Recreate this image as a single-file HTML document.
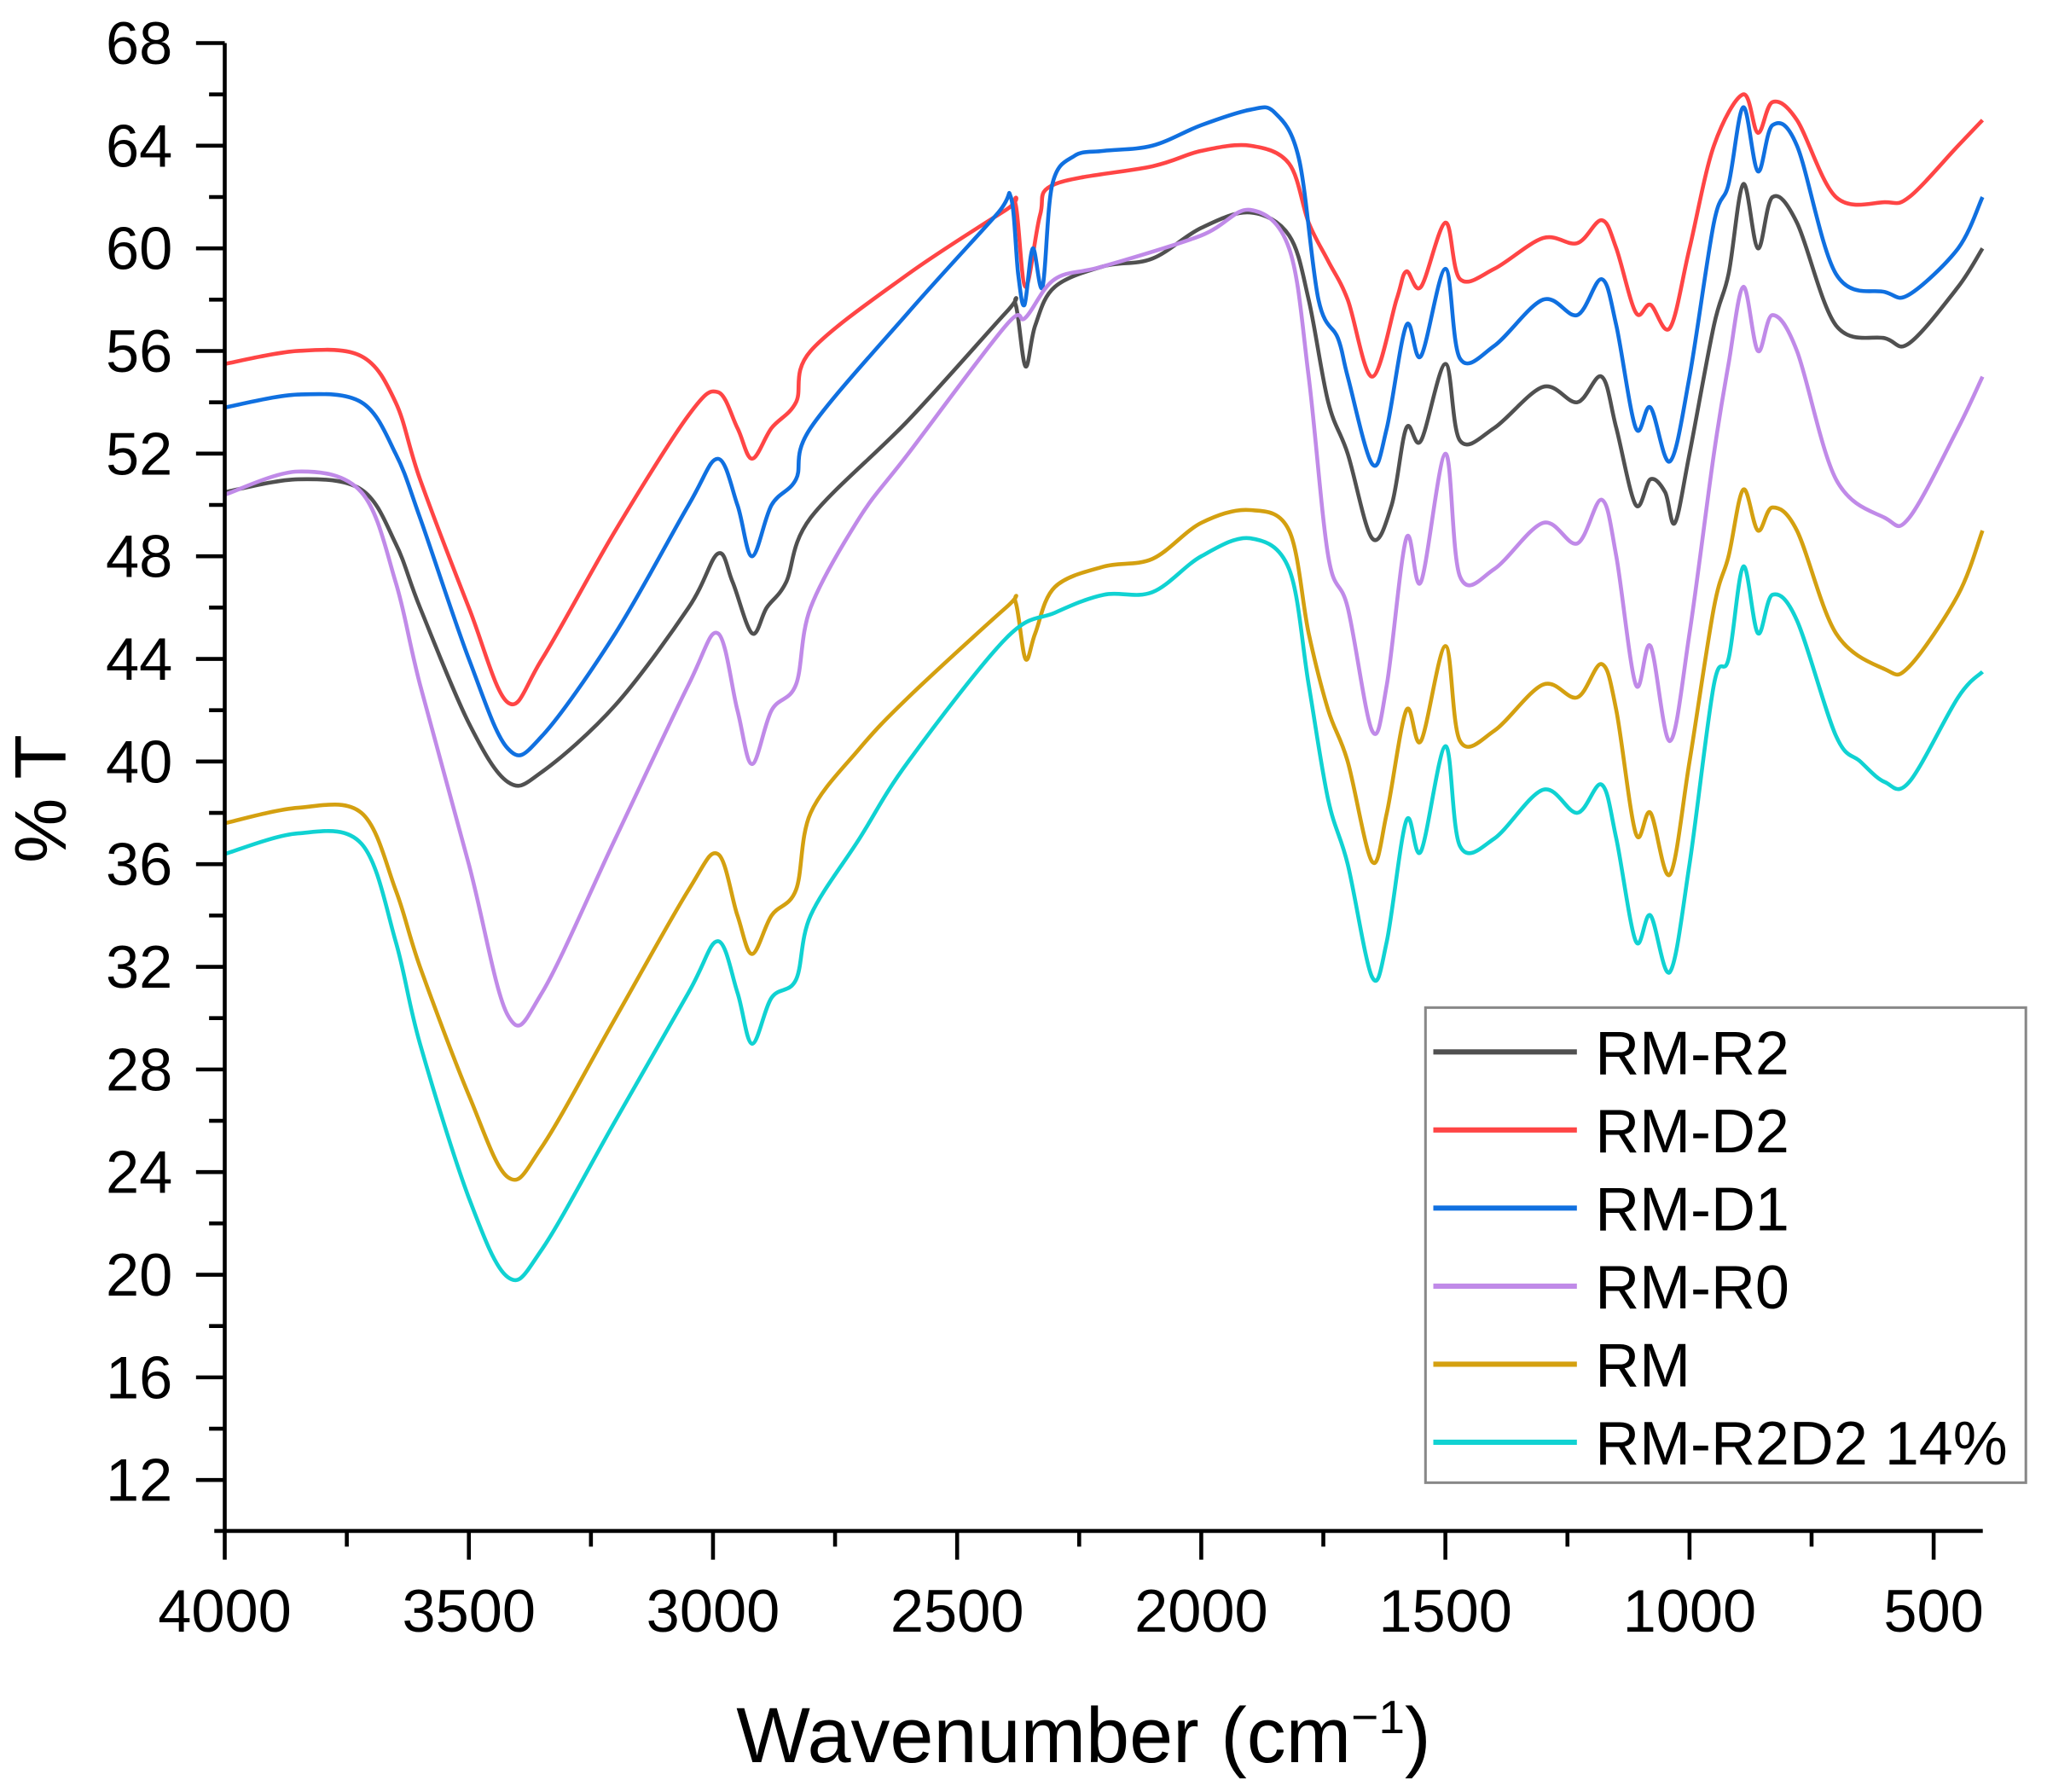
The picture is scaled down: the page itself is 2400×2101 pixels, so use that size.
<!DOCTYPE html>
<html><head><meta charset="utf-8"><style>
html,body{margin:0;padding:0;background:#fff;}
svg{display:block;}
text{font-family:"Liberation Sans",Arial,sans-serif;fill:#000;}
</style></head><body>
<svg id="s" width="2400" height="2101" viewBox="0 0 1568 1373" xmlns="http://www.w3.org/2000/svg">
<rect width="1568" height="1373" fill="#fff"/>
<g id="curves" fill="none" stroke-width="3" stroke-linejoin="round"></g>
<g id="axes" stroke="#000" stroke-width="3" fill="none"></g>
<g id="labels" font-size="46"></g>
<text x="50" y="612" font-size="56" text-anchor="middle" transform="rotate(-90 50 612)">% T</text>
<text x="830" y="1350" font-size="60" text-anchor="middle">Wavenumber (cm<tspan font-size="36" dy="-22">−1</tspan><tspan dy="22">)</tspan></text>
<rect x="1092" y="772" width="460" height="364" fill="#fff" stroke="#888" stroke-width="2"/>
<g id="legend" font-size="47"></g>
</svg>
<script>
var NS="http://www.w3.org/2000/svg";
function X(w){return 172+(4000-w)*0.3741;}
function Y(v){return 33+(68-v)*19.66;}
function el(t,a,p){var e=document.createElementNS(NS,t);for(var k in a)e.setAttribute(k,a[k]);p.appendChild(e);return e;}
var ax=document.getElementById('axes'),lb=document.getElementById('labels');
el('line',{x1:172,y1:33,x2:172,y2:1174},ax);
el('line',{x1:164,y1:1173,x2:1519,y2:1173},ax);
for(var v=12;v<=68;v+=2){var y=Y(v);var maj=(v%4==0);el('line',{x1:maj?150:160,y1:y,x2:172,y2:y},ax);
 if(maj){var t=el('text',{x:132,y:y+16,'text-anchor':'end'},lb);t.textContent=v;}}
for(var w=4000;w>=500;w-=250){var x=X(w);var maj=(w%500==0);el('line',{x1:x,y1:1173,x2:x,y2:maj?1195:1185},ax);
 if(maj){var t=el('text',{x:x,y:1250,'text-anchor':'middle'},lb);t.textContent=w;}}
var S=[
["RM-R2","#505050",[4000,50.5,3850,51,3720,50.6,3650,48.5,3600,46,3500,41.5,3420,39.2,3350,39.6,3200,42.2,3050,46,2990,48.1,2960,47,2920,45,2890,46,2850,47,2800,49.5,2600,53.3,2400,57.5,2380,57.8,2360,55.4,2340,57,2300,58.5,2200,59.3,2100,59.6,2000,60.8,1900,61.4,1820,60.5,1780,58,1740,54,1700,52,1650,48.7,1610,50,1580,53,1550,52.5,1500,55.5,1470,52.5,1400,53,1300,54.6,1230,54,1180,55,1150,53,1110,50,1080,51,1050,50.5,1030,49.3,1000,52,950,57,920,59,890,62.5,860,60,830,62,780,61,700,57,600,56.5,550,56.3,450,58.5,400,60]],
["RM-D2","#ff4545",[4000,55.5,3850,56,3720,55.8,3650,54,3600,51,3500,46,3420,42.3,3350,44,3200,49,3050,53.5,2990,54.4,2950,53,2920,51.8,2880,53,2830,54,2800,56,2600,59,2400,61.5,2380,61.7,2360,58.5,2330,61.3,2300,62.5,2100,63.2,2000,63.8,1900,64,1820,63.3,1780,61,1740,59.5,1700,58,1650,55,1600,58,1580,59.1,1550,58.5,1500,61,1470,58.8,1400,59.2,1300,60.4,1230,60.2,1180,61.1,1150,60,1110,57.5,1080,57.8,1040,56.9,1000,60,950,64,890,66,860,64.5,830,65.7,780,65,700,62,600,61.8,550,62,450,64,400,65]],
["RM-D1","#1070e0",[4000,53.8,3850,54.3,3720,54,3650,52,3600,49.5,3500,44,3420,40.5,3350,41,3200,45,3050,50,2990,51.8,2950,50,2920,48,2880,50,2830,51,2800,53,2600,57.5,2420,61.3,2390,62,2375,59,2362,57.8,2345,60,2325,58.5,2305,62.5,2260,63.6,2200,63.8,2100,64,2000,64.8,1900,65.4,1850,65.3,1800,63.5,1760,58,1720,56.5,1700,55,1650,51.6,1620,53,1580,57,1550,55.8,1500,59.2,1470,55.7,1400,56.2,1300,58,1230,57.4,1180,58.8,1150,57,1110,53,1080,53.8,1040,51.7,1000,55,950,61,920,62.5,890,65.5,860,63,830,64.8,780,64,700,59,600,58.3,550,58.2,450,60,400,62]],
["RM-R0","#c08ae8",[4000,50.4,3850,51.3,3720,50.5,3650,47,3600,43,3500,36,3420,30.1,3350,31,3200,37,3050,43,2990,45,2950,42,2920,39.9,2880,42,2830,43,2800,46,2700,49.5,2600,52,2400,57,2360,57.3,2300,58.8,2200,59.3,2000,60.5,1900,61.5,1820,60,1780,55,1740,48,1700,46,1650,41.2,1620,43,1580,48.7,1550,47,1500,52,1470,47.2,1400,47.5,1300,49.3,1230,48.5,1180,50.2,1150,48,1110,43,1080,44.5,1040,40.8,1000,45,950,52,920,55.5,890,58.5,860,56,830,57.4,780,56,700,51,600,49.5,550,49.5,450,53,400,55]],
["RM","#d4a010",[4000,37.6,3850,38.2,3720,38,3650,35,3600,32,3500,27,3420,23.8,3350,25,3200,30,3050,35,2990,36.4,2950,34,2920,32.5,2880,34,2830,35,2800,38,2700,40.5,2600,42.5,2400,46,2380,46.2,2360,44,2340,45,2300,46.8,2200,47.6,2100,47.9,2000,49.3,1900,49.8,1820,49,1780,45,1740,42,1700,40,1650,36.1,1620,38,1580,42,1550,40.8,1500,44.5,1470,40.8,1400,41.2,1300,43,1230,42.5,1180,43.8,1150,42,1110,37.2,1080,38,1040,35.6,1000,40,950,46,920,48,890,50.6,860,49,830,49.9,780,49,700,45,600,43.6,550,43.7,450,46.5,400,49]],
["RM-R2D2 14%","#10d2d2",[4000,36.4,3850,37.2,3720,36.8,3650,33,3600,29,3500,23,3420,19.9,3350,21,3200,26,3050,31,2990,33,2950,31,2920,29,2880,30.8,2830,31.5,2800,34,2700,37,2600,40,2400,44.8,2300,45.8,2200,46.5,2100,46.6,2000,48,1900,48.7,1820,47.5,1780,43,1740,38.5,1700,36,1650,31.6,1620,33,1580,37.7,1550,36.5,1500,40.6,1470,36.7,1400,37,1300,38.9,1230,38,1180,39.1,1150,37,1110,33,1080,34,1040,31.8,1000,36,950,43,920,44,890,47.6,860,45,830,46.5,780,45.5,700,41,650,40,600,39.2,550,39.2,450,42.5,400,43.5]]
];
var cg=document.getElementById('curves'),lg=document.getElementById('legend');
function path(d){var p=[];for(var i=0;i<d.length;i+=2)p.push([X(d[i]),Y(d[i+1])]);
 var s="M"+p[0][0].toFixed(1)+","+p[0][1].toFixed(1);
 for(var i=0;i<p.length-1;i++){var p0=p[i-1]||p[i],p1=p[i],p2=p[i+1],p3=p[i+2]||p2;
  var c1=[p1[0]+(p2[0]-p0[0])/6,p1[1]+(p2[1]-p0[1])/6],c2=[p2[0]-(p3[0]-p1[0])/6,p2[1]-(p3[1]-p1[1])/6];
  s+="C"+c1[0].toFixed(1)+","+c1[1].toFixed(1)+" "+c2[0].toFixed(1)+","+c2[1].toFixed(1)+" "+p2[0].toFixed(1)+","+p2[1].toFixed(1);}
 return s;}
S.forEach(function(s,i){el('path',{d:path(s[2]),stroke:s[1]},cg);
 var y=806+i*59.8;el('line',{x1:1098,y1:y,x2:1208,y2:y,stroke:s[1],'stroke-width':4},lg);
 var t=el('text',{x:1222,y:y+17},lg);t.textContent=s[0];});
</script>
</body></html>
